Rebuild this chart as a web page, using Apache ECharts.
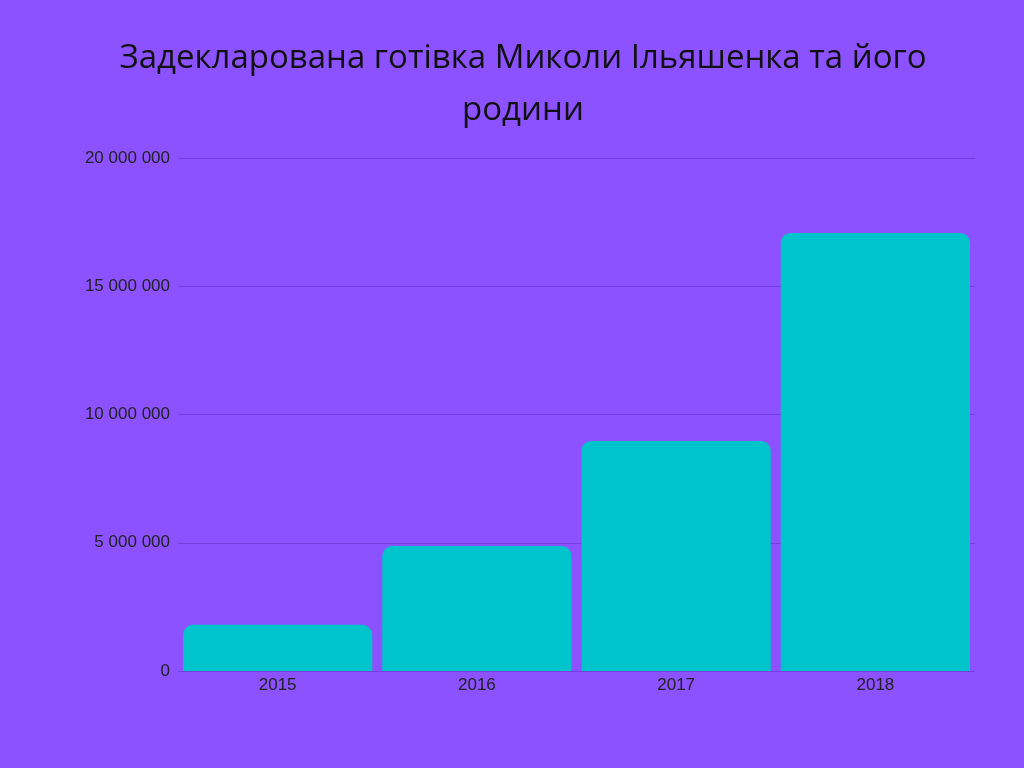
<!DOCTYPE html>
<html>
<head>
<meta charset="utf-8">
<script src="https://cdn.jsdelivr.net/npm/echarts@6/dist/echarts.min.js"></script>
<style>html,body{margin:0;padding:0;background:#8c52ff;}#chart{width:1024px;height:768px;}</style>
</head>
<body>
<div id="chart"></div>
<script>
var years = ['2015', '2016', '2017', '2018'];
var cash = [1800000, 4870000, 8970000, 17080000];
var yTicks = [0, 5000000, 10000000, 15000000, 20000000];

var myChart = echarts.init(document.getElementById('chart'));
var option = {
	backgroundColor: '#8c52ff',
	title: {
		text: 'Задекларована готівка Миколи Ільяшенка та його\nродини',
		left: 518,
		top: 28,
		textAlign: 'center',
		textStyle: {fontFamily: 'Open Sans', fontSize: 33, fontWeight: 'normal', color: '#111', lineHeight: 52}
	},
	grid: {left: 178, right: 49, top: 158, bottom: 97},
	xAxis: {
		type: 'category',
		data: years,
		axisLine: {show: false},
		axisTick: {show: false},
		axisLabel: {fontFamily: 'Liberation Sans', fontSize: 17, color: '#222', margin: 6}
	},
	yAxis: {
		type: 'value',
		min: yTicks[0],
		max: yTicks[yTicks.length - 1],
		interval: 5000000,
		axisLabel: {
			fontFamily: 'Liberation Sans', fontSize: 17, color: '#222', margin: 8,
			formatter: function (v) { return String(v).replace(/\B(?=(\d{3})+(?!\d))/g, ' '); }
		},
		splitLine: {lineStyle: {color: '#7440dd', width: 1}}
	},
	series: [{
		type: 'bar',
		data: cash,
		barCategoryGap: '5%',
		itemStyle: {color: '#00c4cc', borderRadius: [10, 10, 0, 0]}
	}]
};
myChart.setOption(option);
</script>
</body>
</html>
